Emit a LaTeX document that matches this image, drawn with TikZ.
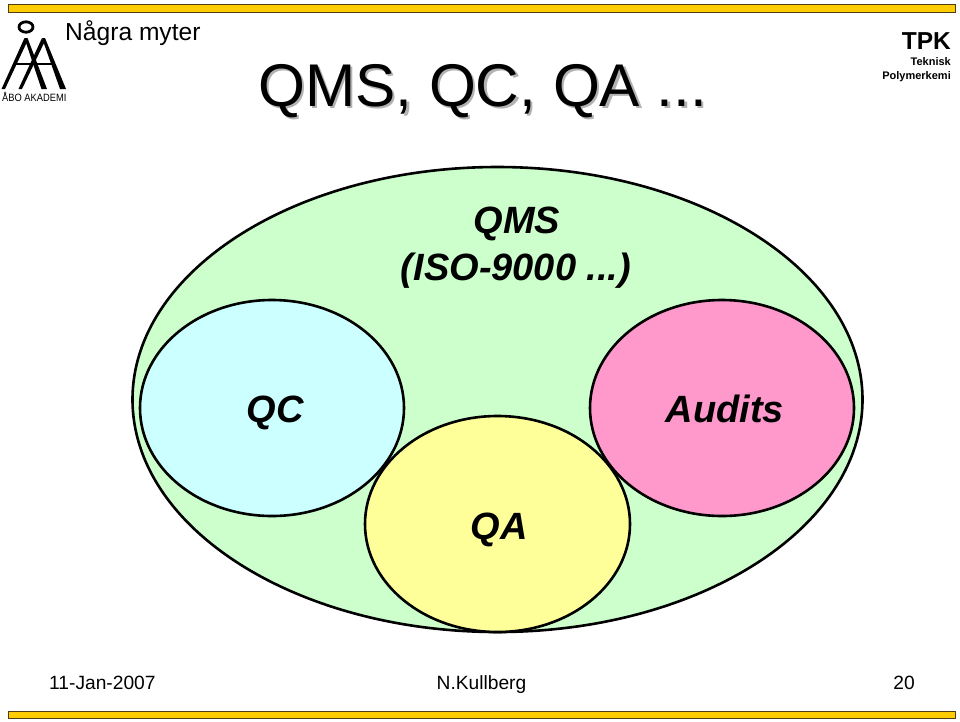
\documentclass[tikz,border=0pt]{standalone}
\usepackage{fontspec}
\setmainfont{Liberation Sans}
\definecolor{barfill}{RGB}{255,204,0}
\definecolor{barline}{RGB}{80,60,20}
\definecolor{shadowgrey}{RGB}{178,178,178}
\definecolor{qmsfill}{RGB}{204,255,204}
\definecolor{qcfill}{RGB}{204,255,255}
\definecolor{qafill}{RGB}{255,255,153}
\definecolor{auditfill}{RGB}{255,153,204}
\tikzset{
  bar/.style={draw=barline,fill=barfill,line width=1pt},
  blob/.style={draw=black,line width=2.6pt},
  label/.style={font=\fontsize{38}{38}\selectfont\bfseries\itshape,inner sep=0pt,text=black},
  foot/.style={font=\fontsize{19.2}{20}\selectfont,inner sep=0pt,text=black},
  logothin/.style={draw=black,line width=1.8pt},
  logothick/.style={fill=black,draw=none}
}
\newcommand{\headline}{QMS, QC, QA ...}
\begin{document}
\begin{tikzpicture}[x=1pt,y=-1pt]
\useasboundingbox (0,0) rectangle (960,721);
% header and footer rules
\path[bar] (8,4) rectangle (955,12);
\path[bar] (8,711) rectangle (955,718);
% university mark: ring, two interlocked letters, crossbar
\draw[black,line width=2.8pt] (26,27) ellipse [x radius=7,y radius=5.2];
\path[logothick] (24.5,38) -- (27.5,38) -- (47,89) -- (41.5,89) -- cycle;
\path[logothick] (24.5,38) -- (26.5,43) -- (5,89) -- (1.5,89) -- cycle;
\path[logothick] (42,38) -- (45,38) -- (66,89) -- (60,89) -- cycle;
\path[logothick] (42,38) -- (44,43) -- (22,89) -- (18.5,89) -- cycle;
\draw[logothin] (14,64) -- (55,64);
\node[inner sep=0pt,anchor=base west,font=\fontsize{10.6}{11}\selectfont] (mark) at (2,101.5) {\scalebox{0.88}[1]{ÅBO AKADEMI}};
% slide heading
\node[inner sep=0pt,anchor=base west,font=\fontsize{24.6}{25}\selectfont] (topic) at (65,40.5) {Några myter};
\node[inner sep=0pt,anchor=base west,text=shadowgrey,font=\fontsize{60.3}{62}\selectfont] (headshadow) at (260.5,108) {\headline};
\node[inner sep=0pt,anchor=base west,font=\fontsize{60.3}{62}\selectfont] (head) at (258,106) {\headline};
% department tag
\node[inner sep=0pt,anchor=base east,font=\fontsize{24.5}{26}\selectfont\bfseries] (tpk) at (951,49) {TPK};
\node[inner sep=0pt,anchor=base east,font=\fontsize{11}{13}\selectfont\bfseries] (tek) at (951,65) {Teknisk};
\node[inner sep=0pt,anchor=base east,font=\fontsize{11}{13}\selectfont\bfseries] (pol) at (951,79) {Polymerkemi};
% nested quality regions
\path[blob,fill=qmsfill] (497.5,399.5) ellipse [x radius=365,y radius=232.5];
\path[blob,fill=qcfill] (272,408) ellipse [x radius=132,y radius=108];
\path[blob,fill=auditfill] (722,408) ellipse [x radius=132,y radius=108];
\path[blob,fill=qafill] (497.5,524) ellipse [x radius=132.5,y radius=108];
% region labels
\node[label,anchor=base] (qms) at (517,233) {QMS};
\node[label,anchor=base] (iso) at (516,280) {(ISO-9000 ...)};
\node[label,anchor=base] (qc) at (275,422) {QC};
\node[label,anchor=base] (aud) at (725,422) {Audits};
\node[label,anchor=base] (qa) at (499,539) {QA};
% footer
\node[foot,anchor=base west] (date) at (49,689) {11-Jan-2007};
\node[foot,anchor=base] (author) at (481.5,689) {N.Kullberg};
\node[foot,anchor=base east] (page) at (915,689) {20};
\end{tikzpicture}
\end{document}
